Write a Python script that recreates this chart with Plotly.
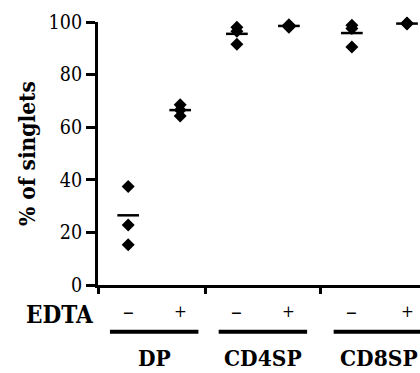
import plotly.graph_objects as go

# ---- data ----
groups = ["DP", "CD4SP", "CD8SP"]
edta = ["–", "+", "–", "+", "–", "+"]
dp_minus = [37.5, 22.8, 15.3]
dp_plus = [68.5, 66.5, 64.3]
cd4_minus = [98.0, 96.5, 91.5]
cd4_plus = [99.0, 98.5, 98.0]
cd8_minus = [98.8, 97.5, 90.5]
cd8_plus = [99.6, 99.4, 99.2]
means = [26.5, 66.5, 95.5, 98.5, 95.8, 99.4]
y_ticks = [0, 20, 40, 60, 80, 100]

# ---- layout positions (category slots on a numeric axis) ----
x_pos = [0.58, 1.58, 2.67, 3.67, 4.88, 5.94]
group_sep = [0, 2.06, 4.27]
x_range = [0, 6.19]

series = [dp_minus, dp_plus, cd4_minus, cd4_plus, cd8_minus, cd8_plus]
px, py = [], []
for xp, vals in zip(x_pos, series):
    for v in vals:
        px.append(xp)
        py.append(v)

serif = "DejaVu Serif Condensed"

fig = go.Figure()
fig.add_trace(go.Scatter(
    x=px, y=py, mode="markers", cliponaxis=False,
    marker=dict(symbol="diamond", size=10, color="black", line=dict(width=0)),
    showlegend=False, hoverinfo="skip"))
fig.add_trace(go.Scatter(
    x=x_pos, y=means, mode="markers", cliponaxis=False,
    marker=dict(symbol="line-ew", size=15.5, color="black",
                line=dict(width=2.5, color="black")),
    showlegend=False, hoverinfo="skip"))

annotations = []
annotations.append(dict(text="<b>% of singlets</b>", xref="paper", yref="paper",
                        x=-0.222, y=0.50, textangle=-90, showarrow=False,
                        font=dict(family=serif, size=22.5, color="black"),
                        xanchor="center", yanchor="middle"))
annotations.append(dict(text="<b>EDTA</b>", xref="paper", yref="paper",
                        x=-0.118, y=-0.113, showarrow=False,
                        font=dict(family=serif, size=24, color="black"),
                        xanchor="center", yanchor="middle"))
for xp, s in zip(x_pos, edta):
    annotations.append(dict(text=s, xref="x", yref="paper", x=xp,
                            y=-0.098 if s == "+" else -0.102,
                            showarrow=False, xanchor="center", yanchor="middle",
                            font=dict(family=serif, size=17 if s == "+" else 24,
                                      color="black")))
shapes = []
for gi, g in enumerate(groups):
    xa, xb = x_pos[2 * gi], x_pos[2 * gi + 1]
    mid = (xa + xb) / 2
    annotations.append(dict(text=f"<b>{g}</b>", xref="x", yref="paper", x=mid,
                            y=-0.278, showarrow=False, xanchor="center",
                            yanchor="middle",
                            font=dict(family=serif, size=22.5, color="black")))
    shapes.append(dict(type="line", xref="x", yref="paper",
                       x0=xa - 0.35, x1=xb + 0.35, y0=-0.178, y1=-0.178,
                       line=dict(color="black", width=4)))

fig.update_layout(
    width=420, height=373,
    margin=dict(l=98, r=0, t=22, b=88),
    plot_bgcolor="white", paper_bgcolor="white",
    annotations=annotations, shapes=shapes,
    xaxis=dict(range=x_range, showline=True, linewidth=3, linecolor="black",
               ticks="outside", ticklen=6, tickwidth=3, tickcolor="black",
               tickvals=group_sep, showticklabels=False, showgrid=False,
               zeroline=False, fixedrange=True),
    yaxis=dict(range=[0, 100], showline=True, linewidth=3, linecolor="black",
               ticks="outside", ticklen=9, tickwidth=3, tickcolor="black",
               tickvals=y_ticks, showgrid=False, zeroline=False,
               tickfont=dict(family=serif, size=19.5, color="black"),
               fixedrange=True),
)

fig.write_html("out.html")
